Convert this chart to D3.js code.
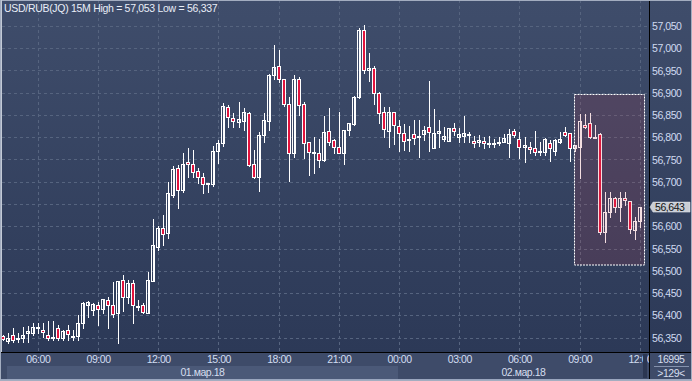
<!DOCTYPE html>
<html><head><meta charset="utf-8">
<script src="https://cdn.jsdelivr.net/npm/d3@7/dist/d3.min.js"></script>
<style>html,body{margin:0;padding:0;background:#3e4b69;overflow:hidden}svg{display:block}</style>
</head><body>
<svg id="c" width="692" height="381"></svg>
<script>
// ---- DATA (USD/RUB, 15-minute candles, 01.03.2018 04:15 – 02.03.2018 12:00) ----
const symbol = "USD/RUB(JQ)";
const period = "15M";
const dateLabels = ["01.мар.18", "02.мар.18"];
const barsInfo = ["16995", ">129<"];
const yTicks = [56.35,56.40,56.45,56.50,56.55,56.60,56.65,56.70,56.75,56.80,56.85,56.90,56.95,57.00,57.05];
const times = d3.timeMinute.every(15).range(new Date(2018,2,1,4,15), new Date(2018,2,2,12,15));
const open = [56.353,56.343,56.356,56.348,56.350,56.361,56.361,56.372,56.367,56.356,
56.350,56.371,56.348,56.367,56.352,56.353,56.382,56.423,56.412,56.423,
56.413,56.434,56.423,56.404,56.479,56.442,56.472,56.420,56.423,56.406,
56.478,56.553,56.595,56.584,56.670,56.730,56.681,56.745,56.741,56.724,
56.710,56.697,56.695,56.769,56.788,56.869,56.843,56.835,56.837,56.854,
56.739,56.710,56.804,56.837,56.941,56.959,56.930,56.874,56.764,56.930,
56.874,56.789,56.766,56.764,56.749,56.814,56.794,56.779,56.765,56.816,
56.830,56.890,57.041,56.950,56.955,56.899,56.856,56.815,56.856,56.826,
56.809,56.795,56.807,56.801,56.807,56.822,56.775,56.809,56.795,56.792,
56.820,56.800,56.803,56.806,56.792,56.789,56.792,56.788,56.786,56.790,
56.790,56.786,56.814,56.795,56.779,56.779,56.775,56.767,56.766,56.786,
56.770,56.790,56.812,56.809,56.775,56.779,56.828,56.831,56.801,56.807,
56.588,56.633,56.663,56.644,56.664,56.657,56.592,56.612];
const high = [56.356,56.360,56.371,56.361,56.374,56.376,56.383,56.383,56.383,56.386,
56.388,56.378,56.367,56.378,56.367,56.400,56.430,56.431,56.428,56.430,
56.436,56.441,56.475,56.478,56.490,56.479,56.479,56.434,56.427,56.498,
56.616,56.601,56.625,56.700,56.735,56.738,56.765,56.775,56.771,56.732,
56.719,56.698,56.780,56.794,56.878,56.872,56.854,56.880,56.866,56.857,
56.771,56.812,56.854,56.942,57.007,56.995,56.932,56.891,56.940,56.936,
56.880,56.790,56.801,56.796,56.848,56.865,56.795,56.857,56.817,56.833,
56.893,57.045,57.053,56.989,56.960,56.902,56.867,56.867,56.857,56.839,
56.830,56.825,56.839,56.839,56.825,56.926,56.864,56.839,56.822,56.821,
56.831,56.820,56.848,56.812,56.803,56.805,56.800,56.803,56.795,56.800,
56.807,56.818,56.818,56.812,56.801,56.790,56.815,56.790,56.798,56.794,
56.795,56.812,56.824,56.810,56.783,56.852,56.852,56.854,56.828,56.809,
56.678,56.678,56.666,56.678,56.678,56.657,56.621,56.643];
const low = [56.344,56.338,56.340,56.340,56.341,56.341,56.356,56.361,56.352,56.344,
56.344,56.344,56.344,56.344,56.344,56.344,56.371,56.395,56.400,56.378,
56.404,56.371,56.397,56.337,56.410,56.428,56.383,56.412,56.404,56.404,
56.477,56.547,56.558,56.573,56.666,56.640,56.678,56.711,56.711,56.697,
56.674,56.678,56.690,56.743,56.780,56.824,56.824,56.824,56.816,56.735,
56.708,56.679,56.790,56.816,56.930,56.925,56.870,56.702,56.755,56.850,
56.753,56.715,56.720,56.734,56.747,56.783,56.765,56.764,56.739,56.805,
56.828,56.888,56.944,56.926,56.874,56.833,56.801,56.777,56.785,56.768,
56.771,56.770,56.785,56.755,56.794,56.768,56.775,56.779,56.792,56.791,
56.805,56.790,56.790,56.790,56.779,56.781,56.775,56.779,56.779,56.783,
56.790,56.756,56.801,56.753,56.745,56.764,56.760,56.760,56.760,56.747,
56.760,56.786,56.803,56.747,56.768,56.709,56.820,56.798,56.798,56.582,
56.565,56.621,56.633,56.612,56.648,56.584,56.571,56.599];
const close = [56.347,56.350,56.344,56.349,56.356,56.365,56.374,56.373,56.363,56.350,
56.351,56.348,56.365,56.358,56.353,56.382,56.427,56.429,56.425,56.413,
56.436,56.423,56.403,56.478,56.442,56.473,56.423,56.419,56.408,56.479,
56.558,56.595,56.583,56.674,56.728,56.681,56.741,56.739,56.723,56.710,
56.695,56.698,56.770,56.786,56.870,56.845,56.837,56.840,56.856,56.738,
56.710,56.804,56.839,56.941,56.957,56.932,56.874,56.765,56.932,56.872,
56.788,56.766,56.765,56.749,56.811,56.790,56.777,56.765,56.816,56.831,
56.890,57.041,56.950,56.955,56.900,56.855,56.818,56.856,56.828,56.809,
56.792,56.796,56.798,56.802,56.816,56.812,56.809,56.814,56.803,56.820,
56.814,56.807,56.809,56.807,56.786,56.794,56.788,56.787,56.787,56.786,
56.799,56.807,56.804,56.777,56.783,56.774,56.766,56.768,56.795,56.775,
56.794,56.795,56.805,56.775,56.783,56.837,56.822,56.801,56.800,56.588,
56.633,56.663,56.644,56.664,56.659,56.594,56.612,56.643];

// ---- LAYOUT ----
const W = 692, H = 381;
const plotL = 2, plotR = 649, plotB = 352;
const svg = d3.select("#c");
const font = "'Liberation Sans', Arial, sans-serif";
const ru = d3.formatLocale({decimal: ",", thousands: "\u00a0", grouping: [3], currency: ["", ""]});
const fmt = ru.format(".3f");
const hm = d3.timeFormat("%H:%M");

const data = times.map((t, i) => ({t, o: open[i], h: high[i], l: low[i], c: close[i]}));
const x = d3.scalePoint().domain(times.map(d => +d)).range([2.7, 639.9]);
const y = d3.scaleLinear().domain([56.35, 57.05]).range([337.5, 26]);
const last = close[close.length - 1];
const ly = y(last);

const defs = svg.append("defs");
const grad = defs.append("linearGradient").attr("id", "bg").attr("x1", 0).attr("y1", 0).attr("x2", 0).attr("y2", 1);
grad.append("stop").attr("offset", "0%").attr("stop-color", "#3f4d6b");
grad.append("stop").attr("offset", "100%").attr("stop-color", "#2c3957");
defs.append("clipPath").attr("id", "plotclip").append("rect")
  .attr("x", plotL).attr("y", 0).attr("width", plotR - plotL).attr("height", plotB);
defs.append("clipPath").attr("id", "xclip").append("rect")
  .attr("x", 0).attr("y", plotB).attr("width", plotR).attr("height", H - plotB);
defs.append("clipPath").attr("id", "hidden").append("rect")
  .attr("x", plotR).attr("y", 0).attr("width", W - plotR).attr("height", Math.round(ly) - 5);

// backgrounds
svg.append("rect").attr("width", W).attr("height", H).attr("fill", "#3e4b69");
svg.append("rect").attr("width", W).attr("height", plotB).attr("fill", "url(#bg)");

// grid
const grid = svg.append("g").attr("stroke", "#56647f").attr("stroke-dasharray", "3,3").attr("stroke-width", 1);
const xTicks = times.filter(t => t.getMinutes() === 0 && t.getHours() % 3 === 0);
grid.selectAll("line.h").data(yTicks).join("line")
  .attr("x1", plotL).attr("x2", plotR).attr("y1", d => Math.round(y(d)) + 0.5).attr("y2", d => Math.round(y(d)) + 0.5);
grid.selectAll("line.v").data(xTicks).join("line")
  .attr("y1", 0).attr("y2", plotB).attr("x1", d => Math.round(x(+d)) + 0.5).attr("x2", d => Math.round(x(+d)) + 0.5);

// candles
const cg = svg.append("g").attr("clip-path", "url(#plotclip)").attr("shape-rendering", "crispEdges");
const cand = cg.selectAll("g").data(data).join("g");
cand.append("line")
  .attr("x1", d => Math.round(x(+d.t)) + 0.5).attr("x2", d => Math.round(x(+d.t)) + 0.5)
  .attr("y1", d => Math.round(y(d.h))).attr("y2", d => Math.round(y(d.l)) + 1)
  .attr("stroke", "#ffffff");
cand.append("rect")
  .attr("x", d => Math.round(x(+d.t)) - 1.5)
  .attr("y", d => Math.round(y(Math.max(d.o, d.c))) + 0.5)
  .attr("width", 3)
  .attr("height", d => Math.max(1, Math.round(y(Math.min(d.o, d.c))) - Math.round(y(Math.max(d.o, d.c)))))
  .attr("fill", d => d.c < d.o ? "#e2133d" : "none")
  .attr("stroke", "#ffffff").attr("stroke-width", 1);

// selection rectangle (annotation)
svg.append("rect").attr("x", 574.5).attr("y", 94.5).attr("width", 70).attr("height", 170.5)
  .attr("fill", "rgb(190,60,80)").attr("fill-opacity", 0.17)
  .attr("stroke", "#ffffff").attr("stroke-dasharray", "2,1").attr("stroke-width", 1);

// title
svg.append("text").attr("x", 4).attr("y", 12).attr("font-family", font).attr("font-size", 10.5)
  .attr("letter-spacing", -0.3).attr("fill", "#e9eef8")
  .text(`${symbol} ${period} High = ${fmt(d3.max(high))} Low = ${fmt(d3.min(low))}`);

// separators
svg.append("line").attr("x1", plotR + 0.5).attr("x2", plotR + 0.5).attr("y1", 0).attr("y2", H).attr("stroke", "#000");
svg.append("line").attr("x1", 0).attr("x2", W).attr("y1", plotB + 0.5).attr("y2", plotB + 0.5).attr("stroke", "#000");

// y axis
const yAxis = svg.append("g").attr("transform", `translate(${plotR},0)`)
  .call(d3.axisRight(y).tickValues(yTicks).tickSize(0).tickPadding(3).tickFormat(fmt));
yAxis.select(".domain").remove();
yAxis.selectAll("text").attr("font-family", font).attr("font-size", 10.5).attr("letter-spacing", -0.45)
  .attr("fill", "#cfdaf0").attr("dy", "0.35em");
// the label hidden behind the last-price marker only peeks out above it
yAxis.selectAll(".tick").filter(d => Math.abs(y(d) - ly) < 6)
  .attr("clip-path", null).select("text").attr("clip-path", "url(#hidden)")
  .attr("transform", `translate(${-plotR},0)`).attr("x", plotR + 3);

// last price marker
const mk = svg.append("g");
mk.append("path")
  .attr("d", `M${plotR + 1},${ly} L${plotR + 4},${ly - 5} L690,${ly - 5} L690,${ly + 5} L${plotR + 4},${ly + 5} Z`)
  .attr("fill", "#c9cdd5").attr("stroke", "#e6e8ec").attr("stroke-width", 0.5);
mk.append("text").attr("x", plotR + 6).attr("y", ly).attr("dy", "0.35em")
  .attr("font-family", font).attr("font-size", 10.5).attr("letter-spacing", -0.45).attr("fill", "#111")
  .text(fmt(last));

// bottom panel: date bands
const midnight = times.find(t => t.getHours() === 0 && t.getMinutes() === 0);
const xm = Math.round(x(+midnight)) - 1;
svg.append("rect").attr("x", 7).attr("y", 366).attr("width", xm - 7).attr("height", 13).attr("fill", "#4b5978");
svg.append("line").attr("x1", 0).attr("x2", W).attr("y1", 379.5).attr("y2", 379.5).attr("stroke", "#9aa6bf");

const xg = svg.append("g").attr("clip-path", "url(#xclip)");
const xAxis = xg.append("g").attr("transform", `translate(0,${plotB})`)
  .call(d3.axisBottom(x).tickValues(xTicks.map(d => +d)).tickSize(0).tickPadding(4).tickFormat(d => hm(new Date(d))));
xAxis.select(".domain").remove();
xAxis.selectAll("text").attr("font-family", font).attr("font-size", 10.5).attr("letter-spacing", -0.45)
  .attr("fill", "#d2ddf1").attr("dy", "0.71em");
// scroll handle
xg.append("rect").attr("x", 643).attr("y", 354).attr("width", 4).attr("height", 24).attr("fill", "#2c3752");

svg.selectAll("text.date").data(dateLabels).join("text").attr("class", "date")
  .attr("x", (d, i) => i === 0 ? (7 + xm) / 2 : (xm + plotR) / 2).attr("y", 376)
  .attr("text-anchor", "middle").attr("font-family", font).attr("font-size", 10.5).attr("letter-spacing", -0.45)
  .attr("fill", "#d6deee").text(d => d);

// corner info
svg.append("text").attr("x", 671).attr("y", 363).attr("text-anchor", "middle").attr("font-family", font)
  .attr("font-size", 10.5).attr("letter-spacing", -0.45).attr("fill", "#d6deee").text(barsInfo[0]);
svg.append("line").attr("x1", 654).attr("x2", 689).attr("y1", 366.5).attr("y2", 366.5).attr("stroke", "#8592ad");
svg.append("text").attr("x", 671).attr("y", 377).attr("text-anchor", "middle").attr("font-family", font)
  .attr("font-size", 10.5).attr("letter-spacing", -0.45).attr("fill", "#d6deee").text(barsInfo[1]);

// outer frame
svg.append("rect").attr("x", 0.5).attr("y", 0.5).attr("width", W - 1).attr("height", H - 1)
  .attr("fill", "none").attr("stroke", "#a3adc0");
svg.append("line").attr("x1", 1.5).attr("x2", 1.5).attr("y1", 0).attr("y2", plotB).attr("stroke", "#c3cad6");
</script>
</body></html>
